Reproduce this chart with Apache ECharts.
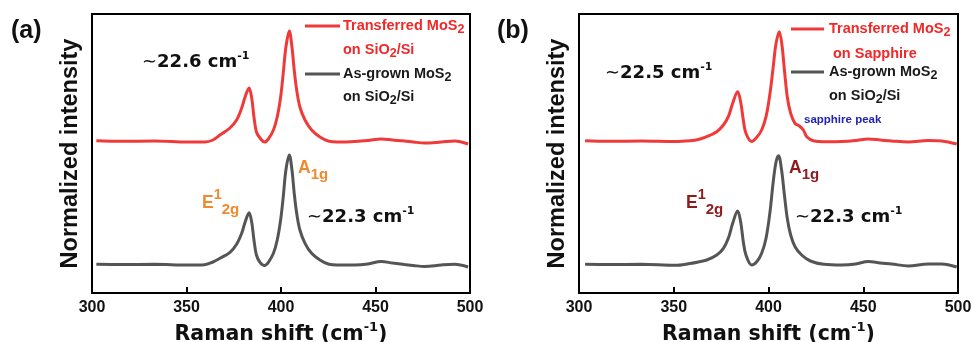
<!DOCTYPE html>
<html><head><meta charset="utf-8">
<script src="https://cdn.jsdelivr.net/npm/echarts@6/dist/echarts.min.js"></script>
<style>html,body{margin:0;padding:0;background:#fff}#c{width:972px;height:342px}</style>
</head><body><div id="c"></div>
<script>
// ---- data (Raman shift in cm^-1, normalized intensity with offset) ----
const xTicks = [300, 350, 400, 450, 500];

const shiftA = [302.3,315.5,333,350.8,359.6,364,367.7,373,376.5,379.2,381,383.1,384.5,385.7,387,388.9,391.3,393.3,396,398,399.8,401.2,402.6,404.4,405.8,407,408.3,410,412.7,416.2,420.6,425,431,439,446,453,459,465.4,470,476,484.8,491.9,499];
const transferredSiO2 = [1.523,1.517,1.52,1.51,1.51,1.53,1.58,1.65,1.73,1.85,1.96,2.05,1.95,1.76,1.61,1.55,1.51,1.54,1.63,1.76,1.96,2.20,2.46,2.62,2.46,2.23,2.03,1.86,1.73,1.63,1.56,1.52,1.51,1.515,1.525,1.54,1.53,1.52,1.51,1.50,1.51,1.52,1.49];
const asGrownA = [0.287,0.285,0.287,0.28,0.283,0.31,0.347,0.407,0.487,0.597,0.707,0.803,0.707,0.53,0.38,0.307,0.275,0.307,0.397,0.53,0.73,0.963,1.23,1.38,1.23,0.997,0.797,0.63,0.497,0.397,0.33,0.29,0.28,0.28,0.29,0.315,0.30,0.285,0.275,0.265,0.28,0.287,0.26];

const shiftB_transferred = [303.2,315.5,333,350.7,358.6,363,367.4,372.7,376.2,378.8,381.1,383.7,385.3,386.7,388.1,391.1,393.8,396.4,398.7,400.8,402.5,404,405.7,407.1,408.4,409.9,411.7,414,416.3,418.4,420.2,423.7,430.7,438.6,446,452.7,459,465,473.8,484.3,491.4,499.3];
const transferredSapphire = [1.523,1.517,1.52,1.515,1.523,1.535,1.563,1.613,1.68,1.763,1.897,2.013,1.913,1.73,1.597,1.515,1.557,1.63,1.763,1.997,2.263,2.497,2.613,2.48,2.23,1.963,1.797,1.697,1.67,1.63,1.563,1.523,1.513,1.515,1.525,1.54,1.53,1.52,1.51,1.525,1.52,1.49];

const shiftB_asGrown = [303.2,315.5,333,350.7,358.6,363,367.4,372.7,376.2,378.8,381.1,383.7,385.3,386.7,388.1,391.1,393.8,396.4,398.7,400.8,402.5,404,405.3,406.9,408.4,409.9,411.7,414,417.5,422.1,429.2,438.6,446,452.7,459,465,473.8,484.3,491.4,499.3];
const asGrownB = [0.287,0.285,0.287,0.277,0.295,0.31,0.33,0.38,0.447,0.547,0.697,0.82,0.713,0.513,0.38,0.28,0.313,0.397,0.547,0.813,1.113,1.313,1.373,1.23,0.98,0.747,0.58,0.463,0.38,0.32,0.287,0.28,0.29,0.315,0.30,0.29,0.27,0.29,0.29,0.26];

// ---- styling ----
const RED = '#F03A3A', GRAY = '#555555', ORANGE = '#F08A30', DARKRED = '#8E1B1B', BLUE = '#2323B4';
const ARIAL = 'Liberation Sans, Arial, sans-serif';
const WIDE = 'DejaVu Sans, sans-serif';

function zip(xs, ys) { return xs.map((x, i) => [x, ys[i]]); }
function tok(fs, color, family, extra) {
  return Object.assign({fontSize: fs, fontWeight: 'bold', fontFamily: family, fill: color, color: color}, extra || {});
}
function richSet(fs, color, family, o) {
  const L = Math.round(fs * 1.3);
  return {
    n: tok(fs, color, family, {lineHeight: L}),
    sb: tok(o.sbSize || fs * 0.8, color, family, {lineHeight: L, padding: [2 * (o.sbDown || 0), 0, 0, 0]}),
    sp: tok(o.spSize || fs * 0.6, color, family, {lineHeight: L, padding: [0, 0, 2 * (o.spUp || 0), 0]}),
    t: tok(fs, color, family, {lineHeight: L, fontWeight: 'normal'})
  };
}
function txt(x, y, text, rich) {
  return {type: 'text', x: x, y: y, z: 100, style: {text: text, rich: rich, align: 'left', verticalAlign: 'middle'}};
}
function seg(x1, x2, y, color) {
  return {type: 'line', z: 100, shape: {x1: x1, y1: y, x2: x2, y2: y}, style: {stroke: color, lineWidth: 3}};
}

const legRed = richSet(14.5, '#F02828', ARIAL, {sbSize: 12.5, sbDown: 4});
const legBlack = richSet(14.5, '#1a1a1a', ARIAL, {sbSize: 12.5, sbDown: 4});
const ann = richSet(18, '#111', WIDE, {spSize: 11, spUp: 6});
const modeOrange = richSet(17.5, ORANGE, ARIAL, {sbSize: 15, sbDown: 7, spSize: 14.5, spUp: 8});
const modeDark = richSet(17.5, DARKRED, ARIAL, {sbSize: 15, sbDown: 7, spSize: 14.5, spUp: 8});
const small = richSet(11.5, BLUE, ARIAL, {});
const panel = richSet(25, '#111', ARIAL, {});

function xAxisFor(gi) {
  return {
    gridIndex: gi, type: 'value', min: xTicks[0], max: xTicks[xTicks.length - 1], interval: 50,
    name: '{n|Raman shift (cm}{sp|-1}{n|)}', nameLocation: 'middle', nameGap: 26,
    nameTextStyle: {rich: {
      n: {fontSize: 20.5, fontWeight: 'bold', fontFamily: WIDE, color: '#111', lineHeight: 26},
      sp: {fontSize: 13, fontWeight: 'bold', fontFamily: WIDE, color: '#111', lineHeight: 26, padding: [0, 0, 14, 0]}
    }},
    axisLine: {show: true, onZero: false, lineStyle: {color: '#000', width: 2}},
    axisTick: {show: true, inside: true, length: 6, lineStyle: {color: '#000', width: 2}},
    axisLabel: {fontSize: 16, fontWeight: 'bold', fontFamily: ARIAL, color: '#111', margin: 7},
    splitLine: {show: false}
  };
}
function yAxisFor(gi) {
  return {
    gridIndex: gi, type: 'value', min: 0, max: 2.79,
    name: 'Normalized intensity', nameLocation: 'middle', nameGap: 9,
    nameTextStyle: {fontSize: 23.5, fontWeight: 'bold', fontFamily: ARIAL, color: '#111'},
    axisLine: {show: true, onZero: false, lineStyle: {color: '#000', width: 2}},
    axisTick: {show: false}, axisLabel: {show: false}, splitLine: {show: false}
  };
}
function lineSeries(name, xi, data, color) {
  return {
    name: name, type: 'line', xAxisIndex: xi, yAxisIndex: xi, data: data,
    showSymbol: false, smooth: 0.35,
    lineStyle: {color: color, width: 3}, itemStyle: {color: color}
  };
}

const option = {
  animation: false,
  backgroundColor: '#fff',
  grid: [
    {left: 92, right: 502, top: 14, bottom: 49, outerBoundsMode: 'none', containLabel: false, show: true, borderColor: '#000', borderWidth: 2},
    {left: 579, right: 14, top: 14, bottom: 49, outerBoundsMode: 'none', containLabel: false, show: true, borderColor: '#000', borderWidth: 2}
  ],
  xAxis: [xAxisFor(0), xAxisFor(1)],
  yAxis: [yAxisFor(0), yAxisFor(1)],
  series: [
    lineSeries('As-grown MoS2 on SiO2/Si (a)', 0, zip(shiftA, asGrownA), GRAY),
    lineSeries('Transferred MoS2 on SiO2/Si', 0, zip(shiftA, transferredSiO2), RED),
    lineSeries('As-grown MoS2 on SiO2/Si (b)', 1, zip(shiftB_asGrown, asGrownB), GRAY),
    lineSeries('Transferred MoS2 on Sapphire', 1, zip(shiftB_transferred, transferredSapphire), RED)
  ],
  graphic: [
    txt(11, 31, '{n|(a)}', panel),
    txt(497, 31, '{n|(b)}', panel),
    // legend (a)
    seg(305, 340, 26, RED), txt(343, 26, '{n|Transferred MoS}{sb|2}', legRed),
    txt(343, 50, '{n|on SiO}{sb|2}{n|/Si}', legRed),
    seg(305, 340, 74, GRAY), txt(343, 74, '{n|As-grown MoS}{sb|2}', legBlack),
    txt(343, 97, '{n|on SiO}{sb|2}{n|/Si}', legBlack),
    // legend (b)
    seg(791, 824, 29, RED), txt(829, 29, '{n|Transferred MoS}{sb|2}', legRed),
    txt(833, 54, '{n|on Sapphire}', legRed),
    seg(791, 824, 72, GRAY), txt(829, 72, '{n|As-grown MoS}{sb|2}', legBlack),
    txt(829, 96, '{n|on SiO}{sb|2}{n|/Si}', legBlack),
    // annotations (a)
    txt(142, 62, '{t|∼}{n|22.6 cm}{sp|-1}', ann),
    txt(307, 217, '{t|∼}{n|22.3 cm}{sp|-1}', ann),
    txt(202, 203, '{n|E}{sp|1}{sb|2g}', modeOrange),
    txt(298, 168, '{n|A}{sb|1g}', modeOrange),
    // annotations (b)
    txt(605, 73, '{t|∼}{n|22.5 cm}{sp|-1}', ann),
    txt(795, 217, '{t|∼}{n|22.3 cm}{sp|-1}', ann),
    txt(686, 203, '{n|E}{sp|1}{sb|2g}', modeDark),
    txt(789, 168, '{n|A}{sb|1g}', modeDark),
    txt(804, 120, '{n|sapphire peak}', small)
  ]
};
const chart = echarts.init(document.getElementById('c'));
chart.setOption(option);
</script>
</body></html>
